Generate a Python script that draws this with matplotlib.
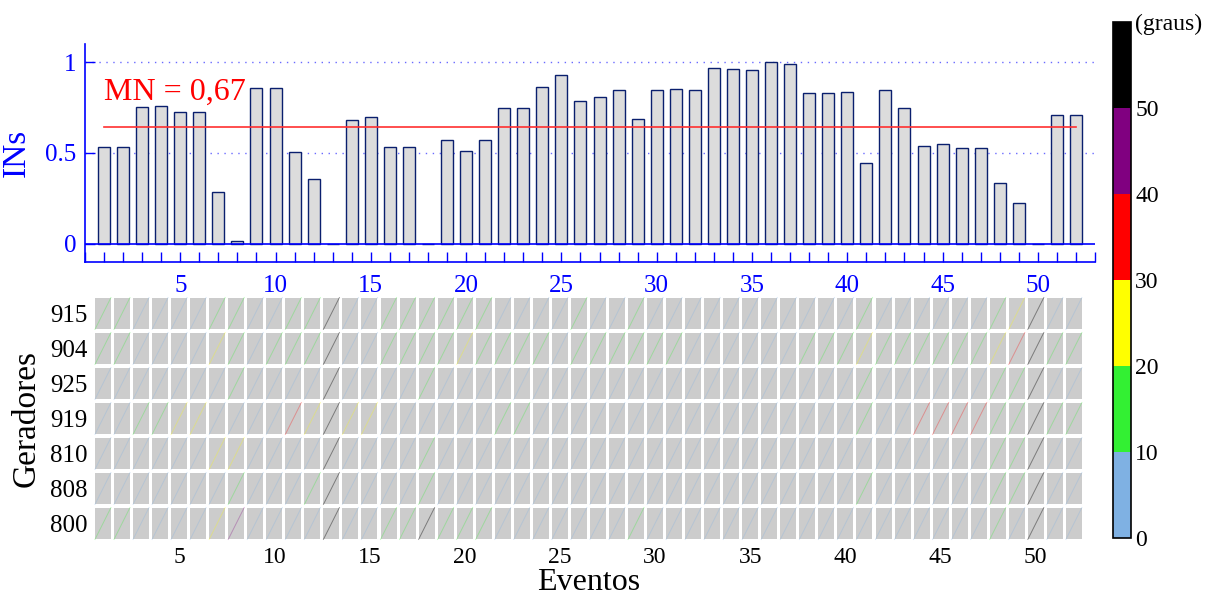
import numpy as np
import matplotlib
matplotlib.use('Agg')
import matplotlib.pyplot as plt
from matplotlib.colors import ListedColormap, BoundaryNorm
from matplotlib.cm import ScalarMappable
from matplotlib.patches import Rectangle
from matplotlib.ticker import MultipleLocator

plt.rcParams['font.family'] = ['Liberation Serif', 'DejaVu Serif']

eventos = list(range(1, 53))
ins = [0.535, 0.535, 0.755, 0.759, 0.728, 0.728, 0.285, 0.013, 0.857, 0.857,
       0.505, 0.358, 0.0, 0.680, 0.697, 0.531, 0.531, 0.0, 0.570, 0.511,
       0.570, 0.750, 0.750, 0.862, 0.932, 0.785, 0.807, 0.847, 0.687, 0.845,
       0.853, 0.847, 0.969, 0.965, 0.958, 1.000, 0.992, 0.832, 0.832, 0.834,
       0.447, 0.849, 0.750, 0.537, 0.550, 0.529, 0.529, 0.333, 0.224, 0.0,
       0.711, 0.711]
linha_mn = 0.645
texto_mn = 'MN = 0,67'

geradores = ['915', '904', '925', '919', '810', '808', '800']
# faixa de angulo por evento: 0 = 0-10, 1 = 10-20, 2 = 20-30, 3 = 30-40, 4 = 40-50, 5 = >50 graus
g915 = [1, 1, 0, 0, 0, 0, 1, 1, 0, 0, 1, 1, 5, 0, 0, 1, 1, 1, 1, 1, 1, 0, 0, 0, 0, 1,
        0, 0, 1, 0, 0, 0, 0, 0, 0, 0, 0, 0, 0, 0, 1, 0, 0, 0, 0, 0, 0, 1, 2, 5, 0, 0]
g904 = [1, 1, 0, 0, 0, 0, 2, 1, 0, 1, 1, 1, 5, 0, 0, 1, 1, 1, 1, 2, 1, 1, 1, 1, 0, 1,
        1, 1, 1, 1, 1, 0, 0, 0, 0, 0, 0, 1, 1, 1, 2, 1, 1, 1, 1, 1, 1, 2, 3, 5, 1, 1]
g925 = [0, 0, 0, 0, 0, 0, 0, 1, 0, 0, 0, 0, 5, 0, 0, 0, 0, 1, 0, 0, 0, 0, 0, 0, 0, 0,
        0, 0, 0, 0, 0, 0, 0, 0, 0, 0, 0, 0, 0, 0, 1, 0, 0, 0, 0, 0, 0, 1, 1, 5, 0, 0]
g919 = [0, 0, 1, 1, 2, 2, 0, 0, 0, 0, 3, 2, 5, 2, 2, 0, 0, 0, 0, 0, 0, 1, 1, 0, 0, 0,
        0, 0, 0, 0, 0, 0, 0, 0, 0, 0, 0, 0, 0, 0, 1, 0, 0, 3, 3, 3, 3, 1, 1, 5, 1, 1]
g810 = [0, 0, 0, 0, 0, 0, 2, 2, 0, 0, 0, 0, 5, 0, 0, 0, 0, 1, 0, 0, 0, 0, 0, 0, 0, 0,
        0, 0, 0, 0, 0, 0, 0, 0, 0, 0, 0, 0, 0, 0, 0, 0, 0, 0, 0, 0, 0, 1, 1, 5, 0, 0]
g808 = [0, 0, 0, 0, 0, 0, 0, 1, 0, 0, 0, 1, 5, 0, 0, 0, 0, 1, 0, 0, 0, 0, 0, 0, 0, 0,
        0, 0, 0, 0, 0, 0, 0, 0, 0, 0, 0, 0, 0, 0, 1, 0, 0, 0, 0, 0, 0, 1, 1, 5, 0, 0]
g800 = [1, 1, 0, 0, 0, 0, 2, 4, 0, 0, 0, 0, 5, 0, 0, 1, 1, 5, 1, 1, 1, 0, 0, 0, 0, 0,
        0, 0, 1, 0, 0, 0, 0, 0, 0, 0, 0, 0, 0, 0, 0, 0, 0, 0, 0, 0, 0, 1, 0, 5, 0, 0]
faixas = [g915, g904, g925, g919, g810, g808, g800]

limites = [0, 10, 20, 30, 40, 50, 60]
rotulos_cb = ['0', '10', '20', '30', '40', '50', '(graus)']
cores = ['#7fb1e3', '#33f033', '#ffff00', '#ff0000', '#800080', '#000000']

azul = '#0000ff'
fig = plt.figure(figsize=(12.12, 5.96), dpi=100)

# --- barras (INs) ---
ax1 = fig.add_axes([0.0701, 0.5604, 0.8334, 0.3658])
ax1.bar(eventos, ins, width=0.63, color='#dcdcdc', edgecolor='#0a1f6e', linewidth=1.0, zorder=3)
ax1.axhline(0, color=azul, lw=1.2, zorder=4)
for g in [0.5, 1.0]:
    ax1.axhline(g, color='#6a6aff', lw=1, ls=(0, (1, 4)), zorder=1)
ax1.plot([eventos[0], eventos[-1]], [linha_mn, linha_mn], color='#ff3030', lw=1.2, zorder=5)
ax1.text(1, 0.835, texto_mn, color='#ff0000', fontsize=23, ha='left', va='center')
ax1.set_xlim(0, 53)
ax1.set_ylim(-0.1, 1.1)
ax1.set_yticks([0, 0.5, 1])
ax1.set_yticklabels(['0', '0.5', '1'])
ax1.set_xticks(range(5, 51, 5))
ax1.xaxis.set_minor_locator(MultipleLocator(1))
ax1.tick_params(axis='x', which='both', direction='in', length=7, width=1, color=azul,
                labelcolor=azul, labelsize=18, pad=9)
ax1.tick_params(axis='y', direction='in', length=7, width=1, color=azul,
                labelcolor=azul, labelsize=18, pad=6)
ax1.set_ylabel('INs', color=azul, fontsize=24, labelpad=10)
for s in ['top', 'right']:
    ax1.spines[s].set_visible(False)
for s in ['left', 'bottom']:
    ax1.spines[s].set_color(azul)
    ax1.spines[s].set_linewidth(1.2)

# --- grade de geradores ---
ax2 = fig.add_axes([0.0771, 0.0923, 0.8168, 0.4111])
cmap = ListedColormap(cores)
norm = BoundaryNorm(limites, cmap.N)
n_lin = len(geradores)
larg = 0.84
alt = 0.91
for i, linha in enumerate(faixas):
    y = n_lin - i
    for x, f in zip(eventos, linha):
        ax2.add_patch(Rectangle((x - larg / 2, y - alt / 2), larg, alt,
                                facecolor='#cccccc', edgecolor='none'))
        ax2.plot([x - larg / 2, x + larg / 2], [y - alt / 2, y + alt / 2],
                 color=cores[f], lw=0.7, alpha=0.3 if f < 5 else 0.4)
ax2.set_xlim(0.5, 52.5)
ax2.set_ylim(0.5, n_lin + 0.5)
ax2.set_yticks(range(n_lin, 0, -1))
ax2.set_yticklabels(geradores)
ax2.set_xticks(range(5, 51, 5))
ax2.tick_params(axis='y', length=0, labelsize=18, pad=4)
ax2.tick_params(axis='x', length=0, labelsize=17, pad=4)
for s in ax2.spines.values():
    s.set_visible(False)
ax2.set_xlabel('Eventos', fontsize=23, labelpad=0)
ax2.set_ylabel('Geradores', fontsize=24, labelpad=6)

# --- barra de cores ---
cax = fig.add_axes([0.9183, 0.0973, 0.0149, 0.8658])
cb = fig.colorbar(ScalarMappable(norm=norm, cmap=cmap), cax=cax, ticks=limites)
cb.ax.set_yticklabels(rotulos_cb)
cb.ax.tick_params(length=0, labelsize=17, pad=3)
cb.outline.set_linewidth(1.2)

fig.savefig('out.png', dpi=100)
